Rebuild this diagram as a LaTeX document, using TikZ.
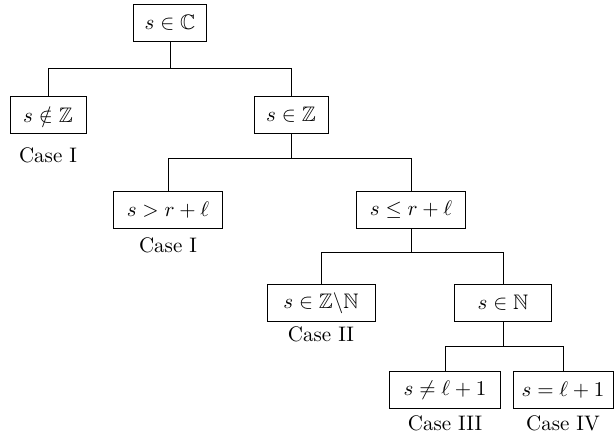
\documentclass[tikz,border=0pt]{standalone}
\usepackage{amssymb}
\begin{document}
\begin{tikzpicture}[x=0.476pt,y=-0.476pt,
  box/.style={draw, line width=0.45pt, minimum height=17.6pt, inner xsep=2pt, inner ysep=0pt},
  lab/.style={inner sep=0pt},
  conn/.style={draw, line width=0.45pt}]
\useasboundingbox (0,0) rectangle (616,434);
% level 0
\node[box, minimum width=34.7pt] (C) at (170,23) {$s\in\mathbb{C}$};
% level 1
\node[box, minimum width=36.2pt] (nZ) at (48,115) {$s\notin\mathbb{Z}$};
\node[box, minimum width=35.2pt] (Z) at (291,115) {$s\in\mathbb{Z}$};
% level 2
\node[box, minimum width=51.9pt] (gt) at (168,210) {$s>r+\ell$};
\node[box, minimum width=51.9pt] (le) at (411,210) {$s\le r+\ell$};
% level 3
\node[box, minimum width=51.4pt] (ZN) at (321,303) {$s\in\mathbb{Z}\backslash\mathbb{N}$};
\node[box, minimum width=46.2pt] (N) at (503,303) {$s\in\mathbb{N}$};
% level 4
\node[box, minimum width=52.4pt] (ne) at (445,390) {$s\neq\ell+1$};
\node[box, minimum width=47.6pt] (eq) at (563,390) {$s=\ell+1$};
% labels
\node[lab] (c1) at (48,155) {Case I};
\node[lab] (c2) at (168,245) {Case I};
\node[lab] (c3) at (321,334) {Case II};
\node[lab] (c4) at (445,423) {Case III};
\node[lab] (c5) at (563,423) {Case IV};
% junctions
\coordinate (j1) at (170,68);
\coordinate (j2) at (291,158);
\coordinate (j3) at (411,252);
\coordinate (j4) at (503,346);
\draw[conn] (C.south) -- (j1);
\draw[conn] (nZ.north) |- (j1);
\draw[conn] (Z.north) |- (j1);
\draw[conn] (Z.south) -- (j2);
\draw[conn] (gt.north) |- (j2);
\draw[conn] (le.north) |- (j2);
\draw[conn] (le.south) -- (j3);
\draw[conn] (ZN.north) |- (j3);
\draw[conn] (N.north) |- (j3);
\draw[conn] (N.south) -- (j4);
\draw[conn] (ne.north) |- (j4);
\draw[conn] (eq.north) |- (j4);
\end{tikzpicture}
\end{document}
